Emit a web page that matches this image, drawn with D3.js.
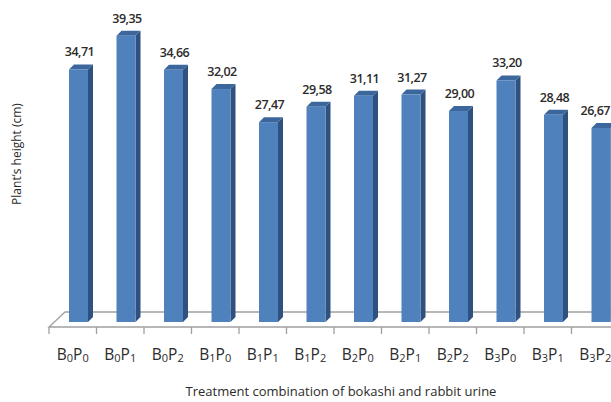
<!DOCTYPE html>
<html>
<head>
<meta charset="utf-8">
<script src="https://cdn.jsdelivr.net/npm/d3@7"></script>
<style>
  body { margin: 0; background: #fff; }
  text { font-family: "Open Sans", sans-serif; fill: #2b2b2b; }
</style>
</head>
<body>
<svg id="chart" width="611" height="402"></svg>
<script>
// treatment codes: [B level, P level]
const treatments = [[0,0],[0,1],[0,2],[1,0],[1,1],[1,2],[2,0],[2,1],[2,2],[3,0],[3,1],[3,2]];
const heights = [34.71, 39.35, 34.66, 32.02, 27.47, 29.58, 31.11, 31.27, 29.00, 33.20, 28.48, 26.67];
const categories = treatments.map(t => `B${t[0]}P${t[1]}`);

const svg = d3.select("#chart");
const W = +svg.attr("width");
const depth = 5;      // 3d offset of a bar
const floorDepth = 15;

const x = d3.scaleBand()
  .domain(categories)
  .range([49, 49 + 12 * 47.5])
  .paddingInner(0)
  .paddingOuter(0);

const y = d3.scaleLinear().domain([0, 40]).range([322, 31]);

const data = categories.map((c, i) => ({ cat: c, t: treatments[i], v: heights[i] }));

// floor
const floorFront = y(0) + 5, floorBack = floorFront - floorDepth;
const floor = svg.append("g").attr("stroke", "#a0a0a0").attr("fill", "none").attr("stroke-width", 1.3);
floor.append("path")
  .attr("d", `M${x.range()[1] + 20},${floorBack} L${x.range()[0] + 16},${floorBack} L${x.range()[0]},${floorFront} L${x.range()[1] + 20},${floorFront}`);

// ticks under the front edge
floor.selectAll("line.tick")
  .data(categories.concat(["end"]))
  .join("line")
  .attr("x1", (d, i) => x.range()[0] + i * x.step())
  .attr("x2", (d, i) => x.range()[0] + i * x.step())
  .attr("y1", floorFront)
  .attr("y2", floorFront + 7);

const barW = 19;
const bx = d => x(d.cat) + 20;

const bars = svg.append("g").selectAll("g").data(data).join("g");

// side
bars.append("path")
  .attr("fill", "#2f5180")
  .attr("d", d => `M${bx(d) + barW},${y(d.v)} L${bx(d) + barW + depth},${y(d.v) - depth} L${bx(d) + barW + depth},${y(0) - depth} L${bx(d) + barW},${y(0)} Z`);
// top
bars.append("path")
  .attr("fill", "#3b679c")
  .attr("d", d => `M${bx(d)},${y(d.v)} L${bx(d) + depth},${y(d.v) - depth} L${bx(d) + barW + depth},${y(d.v) - depth} L${bx(d) + barW},${y(d.v)} Z`);
// front
bars.append("rect")
  .attr("fill", "#4f81bd")
  .attr("x", bx)
  .attr("y", d => y(d.v))
  .attr("width", barW)
  .attr("height", d => y(0) - y(d.v));

// value labels
bars.append("text")
  .attr("x", d => bx(d) + barW / 2 + 1)
  .attr("y", d => y(d.v) - depth - 8)
  .attr("text-anchor", "middle")
  .attr("font-size", 12.5)
  .attr("font-weight", 600)
  .attr("letter-spacing", -0.5)
  .text(d => d.v.toFixed(2).replace(".", ","))
  .each(function () {
    // keep the last label inside the frame
    const b = this.getBBox();
    if (b.x + b.width > W - 1) {
      d3.select(this).attr("text-anchor", "end").attr("x", W - 1);
    }
  });

// category labels with subscripts
const lab = svg.append("g").selectAll("text").data(data).join("text")
  .attr("x", d => x(d.cat) + x.bandwidth() / 2)
  .attr("y", 360)
  .attr("text-anchor", "middle")
  .attr("font-size", 15.5);
lab.each(function (d) {
  const t = d3.select(this);
  t.append("tspan").text("B");
  t.append("tspan").attr("font-size", 11).attr("dy", 2).text(d.t[0]);
  t.append("tspan").attr("dy", -2).text("P");
  t.append("tspan").attr("font-size", 11).attr("dy", 2).text(d.t[1]);
});

// axis titles
svg.append("text")
  .attr("x", 341).attr("y", 396)
  .attr("text-anchor", "middle")
  .attr("font-size", 13)
  .text("Treatment combination of bokashi and rabbit urine");

svg.append("text")
  .attr("transform", "translate(21,154) rotate(-90)")
  .attr("text-anchor", "middle")
  .attr("font-size", 12)
  .text("Plant’s height (cm)");
</script>
</body>
</html>
